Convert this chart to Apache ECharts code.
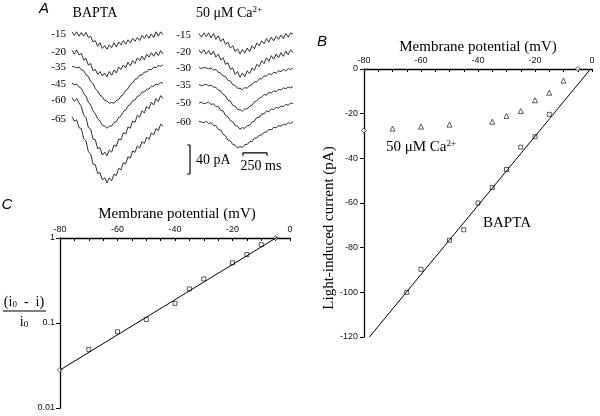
<!DOCTYPE html>
<html><head><meta charset="utf-8">
<script src="https://cdn.jsdelivr.net/npm/echarts@6/dist/echarts.min.js"></script>
<style>html,body{margin:0;padding:0;background:#fff}#c{width:600px;height:416px}</style>
</head><body><div id="c"></div>
<script>
// ---------- DATA ----------
// Panel A: time base of traces (ms)
const TIME_MS = [0,25,50,75,100,125,150,175,200,225,250,275,300,325,350,375,400,425,450,475,500,525,550,575,600,625,650,675,700,725,750,775,800,825,850,875,900,925,950,975];
// BAPTA traces (pA, relative to baseline), holding potentials:
const BAPTA_LABELS = ['-15','-20','-35','-45','-60','-65'];
const BAPTA_M15 = [3,-2,3,-3,2,-3,2,-5,-3,-11,-9,-17,-12,-20,-16,-21,-15,-19,-12,-18,-11,-15,-9,-14,-8,-12,-6,-10,-5,-9,-2,-6,-1,-6,0,-5,3,-3,3,-1];
const BAPTA_M20 = [2,-3,3,-4,-2,-11,-9,-18,-16,-26,-24,-31,-27,-33,-29,-34,-27,-32,-25,-29,-21,-24,-18,-22,-14,-19,-12,-16,-8,-12,-6,-11,-3,-7,-1,-6,0,-5,2,-3];
const BAPTA_M35 = [1,0,-1,0,-4,-5,-11,-13,-20,-23,-30,-33,-39,-41,-46,-47,-50,-49,-50,-46,-45,-40,-38,-32,-30,-24,-22,-17,-16,-11,-11,-7,-7,-3,-4,0,-1,2,1,3];
const BAPTA_M45 = [1,-1,0,-4,-6,-13,-17,-25,-29,-37,-41,-48,-51,-57,-58,-61,-58,-58,-53,-52,-46,-44,-38,-36,-30,-28,-23,-22,-17,-16,-11,-11,-7,-7,-3,-3,0,-1,2,1];
const BAPTA_M60 = [3,-2,2,-4,-9,-21,-24,-38,-40,-54,-55,-67,-66,-76,-72,-77,-69,-72,-62,-64,-54,-55,-45,-47,-37,-39,-29,-31,-21,-24,-15,-18,-9,-12,-3,-7,2,-2,6,2];
const BAPTA_M65 = [3,-3,-1,-12,-13,-27,-30,-45,-48,-62,-63,-75,-74,-84,-81,-88,-81,-85,-76,-78,-68,-70,-60,-62,-52,-54,-44,-46,-37,-40,-31,-34,-25,-28,-19,-22,-13,-16,-7,-10];
// 50 uM Ca traces
const CA_LABELS = ['-15','-20','-30','-35','-50','-60'];
const CA_M15 = [2,-3,3,-2,3,-4,2,-6,-1,-9,-5,-13,-10,-18,-15,-23,-19,-26,-20,-25,-18,-23,-15,-19,-11,-15,-8,-12,-5,-10,-3,-8,-2,-6,0,-5,2,-3,3,1];
const CA_M20 = [3,-2,3,-3,2,-4,1,-7,-3,-11,-8,-17,-15,-24,-22,-31,-27,-35,-29,-34,-26,-30,-22,-25,-17,-20,-12,-16,-8,-13,-5,-10,-3,-8,-1,-6,1,-4,3,-1];
const CA_M30 = [1,-1,1,0,-1,0,-3,-2,-6,-7,-11,-12,-17,-18,-23,-24,-28,-28,-30,-27,-28,-24,-23,-19,-19,-15,-15,-11,-11,-8,-9,-6,-7,-4,-5,-2,-4,-1,-2,0];
const CA_M35 = [1,-1,0,1,-1,0,-3,-3,-7,-8,-13,-15,-21,-22,-28,-29,-34,-34,-36,-33,-33,-29,-28,-23,-22,-18,-17,-13,-14,-10,-11,-8,-9,-6,-7,-4,-5,-3,-4,-2];
const CA_M50 = [0,1,-1,0,1,-2,-1,-5,-5,-10,-11,-17,-19,-24,-26,-31,-32,-36,-34,-35,-31,-31,-26,-25,-20,-20,-15,-15,-11,-12,-8,-9,-6,-7,-4,-5,-2,-3,0,-1];
const CA_M60 = [1,0,-1,1,-2,-1,-5,-5,-10,-11,-17,-19,-25,-26,-31,-32,-36,-34,-35,-31,-31,-27,-27,-22,-22,-18,-18,-14,-14,-10,-11,-7,-8,-5,-6,-3,-4,-1,-2,1];
const SCALE_PA = 40, SCALE_MS = 250;

// Panel B: I-V relation
const B_VOLT_BAPTA = [-65,-60,-50,-45,-40,-35,-30,-25,-20,-15];
const B_CUR_BAPTA  = [-100,-89.7,-76.7,-72,-60,-53.1,-45,-35,-30.3,-20.3];
const B_VOLT_CA = [-70,-60,-50,-35,-30,-25,-20,-15,-10];
const B_CUR_CA  = [-26.7,-25.8,-24.9,-23.6,-21,-18.8,-14,-10.6,-5.2];
const B_VOLT_OPEN = [-80,-5];
const B_CUR_OPEN  = [-27.6,0];
const B_FIT_V = [-78.1,-0.5];
const B_FIT_I = [-120,0];
const B_X_TICKS = [-80,-60,-40,-20,0];
const B_Y_TICKS = [-120,-100,-80,-60,-40,-20,0];

// Panel C: (i0 - i)/i0 on log scale
const C_VOLT = [-70,-60,-50,-40,-35,-30,-20,-15,-10];
const C_RATIO = [0.049,0.079,0.11,0.17,0.252,0.33,0.51,0.64,0.836];
const C_VOLT_OPEN = [-80,-5];
const C_RATIO_OPEN = [0.028,1];
const C_FIT_V = [-80,-4.5];
const C_FIT_R = [0.028,1.02];

// ---------- LAYOUT ----------
const SERIF = 'Liberation Serif', SANS = 'Liberation Sans';
const BAPTA_OFFSETS = [-19.3,-44.1,-64.8,-88.3,-110.3,-136.6];
const CA_OFFSETS = [-20.7,-44.1,-66.2,-89.7,-114.5,-140.7];
const bTraces = [BAPTA_M15,BAPTA_M20,BAPTA_M35,BAPTA_M45,BAPTA_M60,BAPTA_M65];
const cTraces = [CA_M15,CA_M20,CA_M30,CA_M35,CA_M50,CA_M60];

const series = [];
bTraces.forEach((tr,k)=>series.push({type:'line',xAxisIndex:0,yAxisIndex:0,showSymbol:false,silent:true,
  lineStyle:{color:'#1a1a1a',width:0.9},data:TIME_MS.map((t,i)=>[t,tr[i]+BAPTA_OFFSETS[k]])}));
cTraces.forEach((tr,k)=>series.push({type:'line',xAxisIndex:1,yAxisIndex:1,showSymbol:false,silent:true,
  lineStyle:{color:'#1a1a1a',width:0.9},data:TIME_MS.map((t,i)=>[t,tr[i]+CA_OFFSETS[k]])}));
// scale bars (in Ca-trace coordinates)
const vbX = -93, vbTop = -172.4, hbX = 456, hbY = -183.4;
series.push({type:'line',xAxisIndex:1,yAxisIndex:1,showSymbol:false,clip:false,silent:true,
  lineStyle:{color:'#000',width:1.2},
  data:[[vbX-30,vbTop],[vbX,vbTop],[vbX,vbTop-SCALE_PA],[vbX-30,vbTop-SCALE_PA]]});
series.push({type:'line',xAxisIndex:1,yAxisIndex:1,showSymbol:false,clip:false,silent:true,
  lineStyle:{color:'#000',width:1.2},
  data:[[hbX,hbY-4],[hbX,hbY],[hbX+SCALE_MS,hbY],[hbX+SCALE_MS,hbY-4]]});

const openStyle = {color:'#fff',borderColor:'#000',borderWidth:0.8};
// Panel B series
series.push({type:'line',xAxisIndex:2,yAxisIndex:2,showSymbol:false,clip:false,silent:true,
  lineStyle:{color:'#000',width:1},data:B_FIT_V.map((v,i)=>[v,B_FIT_I[i]])});
series.push({type:'scatter',xAxisIndex:2,yAxisIndex:2,symbol:'rect',symbolSize:4,
  itemStyle:openStyle,data:B_VOLT_BAPTA.map((v,i)=>[v,B_CUR_BAPTA[i]])});
series.push({type:'scatter',xAxisIndex:2,yAxisIndex:2,symbol:'triangle',symbolSize:5,
  itemStyle:openStyle,data:B_VOLT_CA.map((v,i)=>[v,B_CUR_CA[i]])});
series.push({type:'scatter',xAxisIndex:2,yAxisIndex:2,symbol:'diamond',symbolSize:5,clip:false,
  itemStyle:openStyle,data:B_VOLT_OPEN.map((v,i)=>[v,B_CUR_OPEN[i]])});
// Panel C series
series.push({type:'line',xAxisIndex:3,yAxisIndex:3,showSymbol:false,clip:false,silent:true,
  lineStyle:{color:'#000',width:1},data:C_FIT_V.map((v,i)=>[v,C_FIT_R[i]])});
series.push({type:'scatter',xAxisIndex:3,yAxisIndex:3,symbol:'rect',symbolSize:4,
  itemStyle:openStyle,data:C_VOLT.map((v,i)=>[v,C_RATIO[i]])});
series.push({type:'scatter',xAxisIndex:3,yAxisIndex:3,symbol:'diamond',symbolSize:5,clip:false,
  itemStyle:openStyle,data:C_VOLT_OPEN.map((v,i)=>[v,C_RATIO_OPEN[i]])});

const axLine = {show:true,onZero:false,lineStyle:{color:'#000',width:1.3}};
const axLbl = {fontFamily:SANS,fontSize:9,color:'#111'};

function txt(x,y,text,font,opts){
  return Object.assign({type:'text',x:x,y:y,silent:true,
    style:Object.assign({text:text,font:font,fill:'#000',textAlign:'center',textVerticalAlign:'middle',
      align:'center',verticalAlign:'middle'},opts||{})});
}
const graphic = [];
graphic.push(txt(44,9,'A','italic 15px '+SANS));
graphic.push(txt(322,42,'B','italic 15px '+SANS));
graphic.push(txt(7,205,'C','italic 15px '+SANS));
graphic.push(txt(95,13,'BAPTA','14px '+SERIF));
graphic.push(txt(229,13,'50 μM Ca{sup|2+}','14px '+SERIF,{rich:{sup:{font:'9px '+SERIF,verticalAlign:'top',padding:[0,0,6,0]}}}));
const bY = [34,52,67,84,100,119], cY = [35,52,68,85,103,122];
BAPTA_LABELS.forEach((l,k)=>graphic.push(txt(66,bY[k],l,'11px '+SERIF,{textAlign:'right',align:'right'})));
CA_LABELS.forEach((l,k)=>graphic.push(txt(191,cY[k],l,'11px '+SERIF,{textAlign:'right',align:'right'})));
graphic.push(txt(196,160,'40 pA','14px '+SERIF,{textAlign:'left',align:'left'}));
graphic.push(txt(261,166,'250 ms','14px '+SERIF));
graphic.push(txt(478,47,'Membrane potential (mV)','15px '+SERIF));
graphic.push(Object.assign(txt(329,228,'Light-induced current (pA)','15px '+SERIF),{rotation:Math.PI/2}));
graphic.push(txt(421,147,'50 μM Ca{sup|2+}','15px '+SERIF,{rich:{sup:{font:'9px '+SERIF,verticalAlign:'top',padding:[0,0,6,0]}}}));
graphic.push(txt(507,223,'BAPTA','15px '+SERIF));
graphic.push(txt(177,214,'Membrane potential (mV)','15px '+SERIF));
graphic.push(txt(24,302,'(i{sub|0}  -  i)','14px '+SERIF,{rich:{sub:{font:'9px '+SERIF,verticalAlign:'bottom'}}}));
graphic.push({type:'line',silent:true,shape:{x1:3,y1:311,x2:46,y2:311},style:{stroke:'#000',lineWidth:1}});
graphic.push(txt(24,322,'i{sub|0}','14px '+SERIF,{rich:{sub:{font:'9px '+SERIF,verticalAlign:'bottom'}}}));

const option = {
  animation:false,
  backgroundColor:'#fff',
  grid:[
    {left:72,top:20,width:91,height:174},
    {left:186.95,top:20,width:106.05,height:174},
    {left:364,top:69,width:228,height:268},
    {left:60,top:238,width:230,height:170}
  ],
  xAxis:[
    {gridIndex:0,type:'value',min:0,max:975,show:false},
    {gridIndex:1,type:'value',min:-125,max:975,show:false},
    {gridIndex:2,type:'value',position:'top',min:B_X_TICKS[0],max:B_X_TICKS[B_X_TICKS.length-1],interval:20,
      axisLine:axLine,axisTick:{show:true,inside:true,length:3,lineStyle:{color:'#000'}},
      minorTick:{show:true,splitNumber:4,length:3,lineStyle:{color:'#000'}},
      splitLine:{show:false},axisLabel:Object.assign({margin:4},axLbl)},
    {gridIndex:3,type:'value',position:'top',min:-80,max:0,interval:20,
      axisLine:axLine,axisTick:{show:true,inside:true,length:3,lineStyle:{color:'#000'}},
      minorTick:{show:true,splitNumber:4,length:3,lineStyle:{color:'#000'}},
      splitLine:{show:false},axisLabel:Object.assign({margin:4},axLbl)}
  ],
  yAxis:[
    {gridIndex:0,type:'value',min:-240,max:0,show:false},
    {gridIndex:1,type:'value',min:-240,max:0,show:false},
    {gridIndex:2,type:'value',min:B_Y_TICKS[0],max:B_Y_TICKS[B_Y_TICKS.length-1],interval:20,
      axisLine:axLine,axisTick:{show:true,inside:false,length:4,lineStyle:{color:'#000'}},
      splitLine:{show:false},axisLabel:Object.assign({margin:6},axLbl)},
    {gridIndex:3,type:'log',logBase:10,min:0.01,max:1,
      axisLine:axLine,axisTick:{show:true,inside:false,length:4,lineStyle:{color:'#000'}},
      splitLine:{show:false},axisLabel:Object.assign({margin:5},axLbl)}
  ],
  graphic:graphic,
  series:series
};
const chart = echarts.init(document.getElementById('c'),null,{renderer:'canvas'});
chart.setOption(option);
</script></body></html>
